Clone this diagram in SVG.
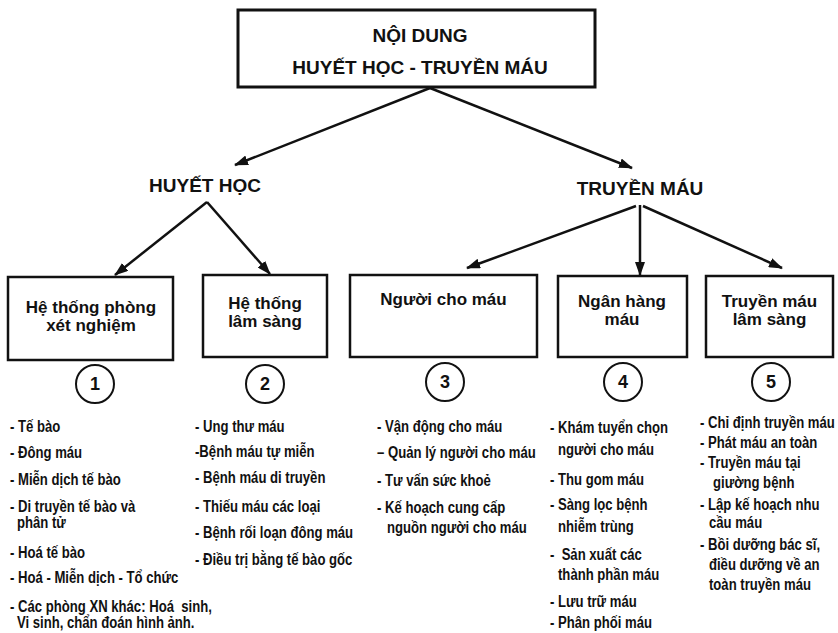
<svg xmlns="http://www.w3.org/2000/svg" width="838" height="633" viewBox="0 0 838 633">
<style>
.box{fill:#fff;stroke:#111;stroke-width:2.5}
.circ{fill:#fff;stroke:#111;stroke-width:2}
.title{font-family:"Liberation Sans",Arial,sans-serif;font-weight:bold;font-size:19px;fill:#111;text-anchor:middle}
.bt{font-family:"Liberation Sans",Arial,sans-serif;font-weight:bold;font-size:17px;fill:#111;text-anchor:middle}
.num{font-family:"Liberation Sans",Arial,sans-serif;font-weight:bold;font-size:18px;fill:#111;text-anchor:middle}
.li{font-family:"Liberation Sans",Arial,sans-serif;font-weight:bold;font-size:16px;fill:#111}
.con{stroke:#111;stroke-width:2.5;fill:none;marker-end:url(#ah)}
</style>
<defs>
<marker id="ah" viewBox="0 0 14 10" refX="13" refY="5" markerWidth="14" markerHeight="10" markerUnits="userSpaceOnUse" orient="auto">
<path d="M0,0 L14,5 L0,10 z" fill="#111"/>
</marker>
</defs>
<rect width="838" height="633" fill="#fff"/>

<g id="connectors">
<line class="con" x1="430" y1="88" x2="235" y2="165"/>
<line class="con" x1="430" y1="88" x2="632" y2="168"/>
<line class="con" x1="207" y1="202" x2="115" y2="275"/>
<line class="con" x1="207" y1="202" x2="270" y2="274"/>
<line class="con" x1="636" y1="206" x2="467" y2="268"/>
<line class="con" x1="640" y1="205" x2="640" y2="275"/>
<line class="con" x1="643" y1="206" x2="782" y2="268"/>
</g>

<g id="root">
<rect class="box" x="238" y="10" width="357" height="77" style="stroke-width:3"/>
<text class="title" x="420" y="42">NỘI DUNG</text>
<text class="title" x="420" y="74">HUYẾT HỌC - TRUYỀN MÁU</text>
</g>

<g id="huyet-hoc">
<text class="title" x="205" y="192">HUYẾT HỌC</text>
</g>

<g id="truyen-mau">
<text class="title" x="640" y="195">TRUYỀN MÁU</text>
</g>

<g id="node1">
<rect class="box" x="8" y="277" width="165" height="83"/>
<text class="bt" x="91" y="313">Hệ thống phòng</text>
<text class="bt" x="91" y="331">xét nghiệm</text>
<circle class="circ" cx="95" cy="384" r="19"/>
<text class="num" x="95" y="390">1</text>
</g>

<g id="node2">
<rect class="box" x="203" y="275" width="124" height="82"/>
<text class="bt" x="265" y="309">Hệ thống</text>
<text class="bt" x="265" y="327">lâm sàng</text>
<circle class="circ" cx="265" cy="384" r="19"/>
<text class="num" x="265" y="390">2</text>
</g>

<g id="node3">
<rect class="box" x="350" y="275" width="187" height="82"/>
<text class="bt" x="443.5" y="305">Người cho máu</text>
<circle class="circ" cx="445" cy="382" r="19"/>
<text class="num" x="445" y="388">3</text>
</g>

<g id="node4">
<rect class="box" x="558" y="276" width="129" height="81"/>
<text class="bt" x="622" y="307">Ngân hàng</text>
<text class="bt" x="622" y="325">máu</text>
<circle class="circ" cx="623" cy="382" r="19"/>
<text class="num" x="623" y="388">4</text>
</g>

<g id="node5">
<rect class="box" x="706" y="276" width="127" height="81"/>
<text class="bt" x="769.5" y="307">Truyền máu</text>
<text class="bt" x="769.5" y="325">lâm sàng</text>
<circle class="circ" cx="771" cy="382" r="19"/>
<text class="num" x="771" y="388">5</text>
</g>

<g id="lists" transform="scale(0.82 1)">
<g id="list1">
<text class="li" x="12.2" y="432">- Tế bào</text>
<text class="li" x="12.2" y="458">- Đông máu</text>
<text class="li" x="12.2" y="485">- Miễn dịch tế bào</text>
<text class="li" x="12.2" y="512">- Di truyền tế bào và</text>
<text class="li" x="20.7" y="528">phân tử</text>
<text class="li" x="12.2" y="558">- Hoá tế bào</text>
<text class="li" x="12.2" y="583">- Hoá - Miễn dịch - Tổ chức</text>
<text class="li" x="12.2" y="612" xml:space="preserve">- Các phòng XN khác: Hoá  sinh,</text>
<text class="li" x="20.7" y="628">Vi sinh, chẩn đoán hình ảnh.</text>
</g>
<g id="list2">
<text class="li" x="237.8" y="432">- Ung thư máu</text>
<text class="li" x="237.8" y="457">-Bệnh máu tự miễn</text>
<text class="li" x="237.8" y="483">- Bệnh máu di truyền</text>
<text class="li" x="237.8" y="512">- Thiếu máu các loại</text>
<text class="li" x="237.8" y="538">- Bệnh rối loạn đông máu</text>
<text class="li" x="237.8" y="565">- Điều trị bằng tế bào gốc</text>
</g>
<g id="list3">
<text class="li" x="459.8" y="432">- Vận động cho máu</text>
<text class="li" x="459.8" y="458">– Quản lý người cho máu</text>
<text class="li" x="459.8" y="486">- Tư vấn sức khoẻ</text>
<text class="li" x="459.8" y="513">- Kế hoạch cung cấp</text>
<text class="li" x="472" y="533">nguồn người cho máu</text>
</g>
<g id="list4">
<text class="li" x="670.7" y="433">- Khám tuyển chọn</text>
<text class="li" x="680.5" y="455">người cho máu</text>
<text class="li" x="670.7" y="485">- Thu gom máu</text>
<text class="li" x="670.7" y="510">- Sàng lọc bệnh</text>
<text class="li" x="680.5" y="532">nhiễm trùng</text>
<text class="li" x="670.7" y="560" xml:space="preserve">-  Sản xuất các</text>
<text class="li" x="680.5" y="580">thành phần máu</text>
<text class="li" x="670.7" y="607">- Lưu trữ máu</text>
<text class="li" x="670.7" y="628">- Phân phối máu</text>
</g>
<g id="list5">
<text class="li" x="853.7" y="428">- Chỉ định truyền máu</text>
<text class="li" x="853.7" y="448">- Phát máu an toàn</text>
<text class="li" x="853.7" y="468">- Truyền máu tại</text>
<text class="li" x="869.5" y="488">giường bệnh</text>
<text class="li" x="853.7" y="510">- Lập kế hoạch nhu</text>
<text class="li" x="864.6" y="528">cầu máu</text>
<text class="li" x="853.7" y="550">- Bồi dưỡng bác sĩ,</text>
<text class="li" x="864.6" y="570">điều dưỡng về an</text>
<text class="li" x="864.6" y="590">toàn truyền máu</text>
</g>
</g>
</svg>
